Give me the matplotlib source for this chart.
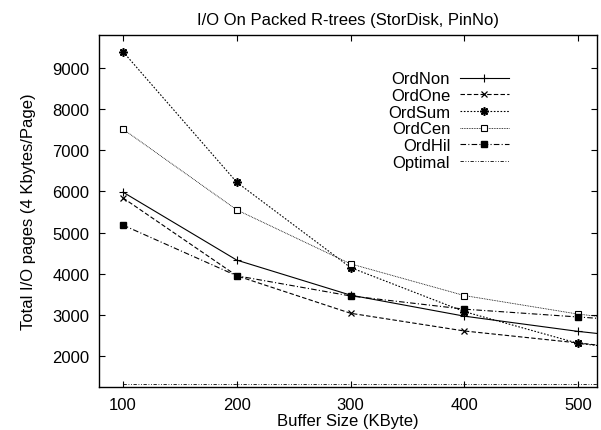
import matplotlib
matplotlib.use("Agg")
import matplotlib.pyplot as plt

plt.rcParams['font.family'] = ['Liberation Sans', 'DejaVu Sans']

# buffer sizes (KByte); the 600 point runs off the right edge like the original
buffer_kb = [100, 200, 300, 400, 500, 600]

ord_non = [5980, 4330, 3480, 2970, 2600, 2300]
ord_one = [5840, 3950, 3040, 2610, 2320, 2010]
ord_sum = [9390, 6220, 4150, 3080, 2310, 2000]
ord_cen = [7510, 5550, 4240, 3470, 3020, 2710]
ord_hil = [5180, 3950, 3460, 3140, 2950, 2760]
optimal = [1320, 1320, 1320, 1320, 1320, 1320]

fig = plt.figure(figsize=(6.01, 4.31), dpi=100)
ax = fig.add_axes([0.165, 0.0998, 0.829, 0.817])

lw = 0.8
ax.plot(buffer_kb, ord_non, color='black', lw=lw, ls='-', marker='+', ms=6, mew=0.8, label='OrdNon')
ax.plot(buffer_kb, ord_one, color='black', lw=lw, ls=(0, (4, 2)), marker='x', ms=5, mew=0.9, label='OrdOne')
ax.plot(buffer_kb, ord_sum, color='black', lw=lw, ls=(0, (1.5, 1.5)), marker=(8, 2, 0), ms=6, mew=1.2, label='OrdSum')
ax.plot(buffer_kb, ord_cen, color='black', lw=0.6, ls=(0, (1, 1)), marker='s', ms=5, mfc='white', mew=0.8, label='OrdCen')
ax.plot(buffer_kb, ord_hil, color='black', lw=lw, ls=(0, (5, 2, 1, 2)), marker='s', ms=5, mfc='black', label='OrdHil')
ax.plot(buffer_kb, optimal, color='black', lw=0.6, ls=(0, (4, 2, 1, 2, 1, 2)), label='Optimal')

ax.set_xlim(79, 517)
ax.set_ylim(1250, 9800)
ax.set_xticks([100, 200, 300, 400, 500])
ax.set_yticks([2000, 3000, 4000, 5000, 6000, 7000, 8000, 9000])
ax.tick_params(direction='in', top=True, right=True, length=4, width=0.8, labelsize=12, pad=7)
for s in ax.spines.values():
    s.set_linewidth(1.0)

ax.set_title('I/O On Packed R-trees (StorDisk, PinNo)', fontsize=12, pad=8)
ax.set_xlabel('Buffer Size (KByte)', fontsize=12, labelpad=1)
ax.set_ylabel('Total I/O pages (4 Kbytes/Page)', fontsize=12, labelpad=12)

ax.legend(loc='upper right', bbox_to_anchor=(0.835, 0.915), frameon=False,
          markerfirst=False, fontsize=12, handlelength=2.9, handletextpad=0.6,
          labelspacing=0.1, borderaxespad=0)

fig.savefig('out.png', dpi=100)
